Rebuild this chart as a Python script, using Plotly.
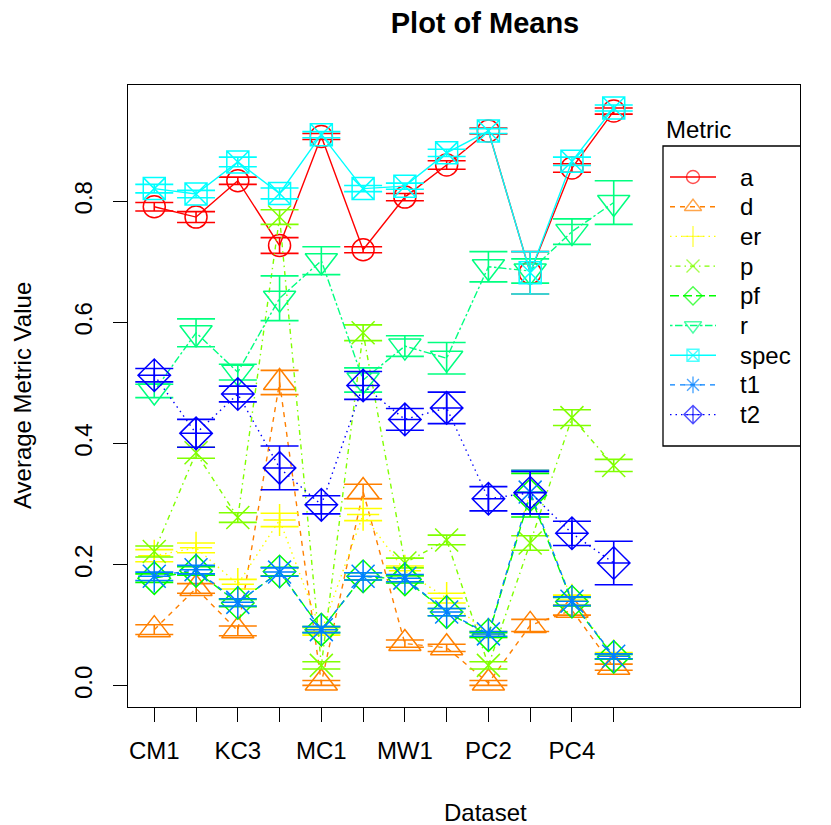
import plotly.graph_objects as go

# Datasets on the x axis (in plotting order)
datasets = ["CM1", "KC1", "KC3", "KC4", "MC1", "MC2", "MW1", "PC1", "PC2", "PC3", "PC4", "PC5"]
metrics = ["a", "d", "er", "p", "pf", "r", "spec", "t1", "t2"]

# Mean metric value per dataset, and half-width of the error bar
a_mean = [0.791, 0.774, 0.834, 0.727, 0.907, 0.720, 0.807, 0.860, 0.916, 0.682, 0.855, 0.949]
a_err = [0.007, 0.009, 0.006, 0.013, 0.005, 0.005, 0.006, 0.007, 0.005, 0.035, 0.007, 0.005]

d_mean = [0.093, 0.161, 0.091, 0.501, 0.005, 0.321, 0.070, 0.063, 0.005, 0.100, 0.125, 0.031]
d_err = [0.008, 0.008, 0.008, 0.020, 0.004, 0.012, 0.006, 0.006, 0.004, 0.010, 0.008, 0.005]

er_mean = [0.215, 0.228, 0.168, 0.274, 0.090, 0.283, 0.190, 0.145, 0.085, 0.320, 0.142, 0.050]
er_err = [0.010, 0.008, 0.008, 0.011, 0.006, 0.010, 0.008, 0.008, 0.005, 0.036, 0.008, 0.005]

p_mean = [0.222, 0.385, 0.278, 0.774, 0.034, 0.583, 0.203, 0.241, 0.034, 0.236, 0.443, 0.364]
p_err = [0.009, 0.009, 0.008, 0.012, 0.006, 0.013, 0.008, 0.008, 0.006, 0.012, 0.013, 0.010]

pf_mean = [0.178, 0.190, 0.137, 0.189, 0.093, 0.181, 0.176, 0.122, 0.084, 0.315, 0.139, 0.048]
pf_err = [0.007, 0.007, 0.006, 0.007, 0.005, 0.006, 0.006, 0.006, 0.004, 0.036, 0.007, 0.004]

r_mean = [0.487, 0.583, 0.518, 0.640, 0.702, 0.505, 0.561, 0.541, 0.692, 0.685, 0.750, 0.798]
r_err = [0.011, 0.023, 0.013, 0.037, 0.023, 0.020, 0.017, 0.026, 0.025, 0.020, 0.021, 0.036]

spec_mean = [0.821, 0.812, 0.865, 0.813, 0.910, 0.821, 0.825, 0.880, 0.916, 0.682, 0.866, 0.954]
spec_err = [0.007, 0.006, 0.008, 0.009, 0.005, 0.005, 0.005, 0.006, 0.004, 0.035, 0.007, 0.005]

t1_mean = [0.181, 0.192, 0.138, 0.188, 0.093, 0.181, 0.178, 0.122, 0.086, 0.320, 0.140, 0.049]
t1_err = [0.007, 0.007, 0.006, 0.007, 0.005, 0.006, 0.006, 0.006, 0.004, 0.036, 0.007, 0.004]

t2_mean = [0.513, 0.417, 0.482, 0.360, 0.299, 0.496, 0.440, 0.459, 0.309, 0.319, 0.252, 0.203]
t2_err = [0.011, 0.023, 0.013, 0.036, 0.015, 0.023, 0.018, 0.026, 0.020, 0.035, 0.020, 0.036]

y_ticks = [0.0, 0.2, 0.4, 0.6, 0.8]

means = [a_mean, d_mean, er_mean, p_mean, pf_mean, r_mean, spec_mean, t1_mean, t2_mean]
errs = [a_err, d_err, er_err, p_err, pf_err, r_err, spec_err, t1_err, t2_err]

# rainbow palette from red to blue
colors = ["#FF0000", "#FF8000", "#FFFF00", "#80FF00", "#00FF00",
          "#00FF80", "#00FFFF", "#0080FF", "#0000FF"]
symbols = ["circle-open", "triangle-up-open", "cross-thin-open", "x-thin-open",
           "diamond-open", "triangle-down-open", "square-x-open", "asterisk-open",
           "diamond-cross-open"]
sizes = [22, 28, 23, 23, 25, 28, 22, 27, 25]
key_sizes = [13, 15, 15, 13, 14, 15, 12, 14, 14]
dashes = ["solid", "5px,5px", "1.5px,4px", "1.5px,4px,5px,4px", "9px,4px",
          "2.5px,2.5px,7.5px,2.5px", "solid", "5px,5px", "1.5px,4px"]

x_pos = list(range(1, len(datasets) + 1))
FONT = "Liberation Sans, Arial, Helvetica, sans-serif"

W, H = 831, 825
L, R, T, B = 128, 31, 85, 118

fig = go.Figure()
for name, m, e, c, s, sz, dsh in zip(metrics, means, errs, colors, symbols, sizes, dashes):
    fig.add_trace(go.Scatter(
        x=x_pos, y=m, name=name, mode="lines+markers", showlegend=False,
        line=dict(color=c, width=1.4, dash=dsh),
        marker=dict(symbol=s, size=sz, color=c, line=dict(color=c, width=1.5)),
        error_y=dict(type="data", array=e, visible=True, color=c, thickness=1.6, width=19),
    ))

# Key box drawn on a hidden overlay axis measured in pixels of the plotting region
KEY_LEFT, KEY_RIGHT, KEY_TOP, KEY_BOTTOM = 663, 802, 146, 446
KEY_ROW0, KEY_STEP = 177, 29.7
KEY_LINE_X0, KEY_LINE_X1, KEY_TEXT_X = 670, 716, 738
key_y = [KEY_ROW0 + KEY_STEP * i for i in range(len(metrics))]
key_mid = (KEY_LINE_X0 + KEY_LINE_X1) / 2

fig.add_trace(go.Scatter(
    x=[key_mid] * len(metrics), y=key_y, mode="markers", showlegend=False,
    xaxis="x2", yaxis="y2", hoverinfo="skip",
    marker=dict(symbol=symbols, size=key_sizes, color=colors,
                line=dict(color=colors, width=1.4)),
))

shapes = [dict(type="rect", xref="x2", yref="y2", x0=KEY_LEFT, x1=KEY_RIGHT,
               y0=KEY_TOP, y1=KEY_BOTTOM, line=dict(color="black", width=1.3),
               fillcolor="rgba(0,0,0,0)", layer="above")]
annotations = []
for name, c, dsh, yy in zip(metrics, colors, dashes, key_y):
    shapes.append(dict(type="line", xref="x2", yref="y2", x0=KEY_LINE_X0, x1=KEY_LINE_X1,
                       y0=yy, y1=yy, line=dict(color=c, width=1.4, dash=dsh), layer="below"))
    annotations.append(dict(text=name, xref="x2", yref="y2", x=KEY_TEXT_X, y=yy,
                            xanchor="left", yanchor="middle", showarrow=False,
                            font=dict(family=FONT, size=24, color="black")))

annotations += [
    dict(text="Metric", xref="x2", yref="y2", x=664, y=129,
         xanchor="left", yanchor="middle", showarrow=False,
         font=dict(family=FONT, size=24, color="black")),
    dict(text="Dataset", xref="paper", yref="paper",
         x=(485 - L) / (W - L - R), y=(H - B - 812) / (H - T - B),
         xanchor="center", yanchor="middle", showarrow=False,
         font=dict(family=FONT, size=24, color="black")),
    dict(text="Average Metric Value", xref="paper", yref="paper",
         x=(22 - L) / (W - L - R), y=0.5, textangle=-90,
         xanchor="center", yanchor="middle", showarrow=False,
         font=dict(family=FONT, size=24, color="black")),
]

fig.update_layout(
    width=W, height=H,
    margin=dict(l=L, r=R, t=T, b=B, pad=0),
    paper_bgcolor="white", plot_bgcolor="white",
    font=dict(family=FONT, size=24, color="black"),
    showlegend=False,
    title=dict(
        text="<b>Plot of Means</b>", font=dict(family=FONT, size=29, color="black"),
        xref="container", yref="container", x=485 / W, y=1 - 23 / H,
        xanchor="center", yanchor="middle",
    ),
    shapes=shapes,
    annotations=annotations,
    xaxis=dict(
        range=[0.371, 16.46], tickmode="array", tickvals=x_pos,
        ticktext=[d if i % 2 == 0 else "" for i, d in enumerate(datasets)],
        ticks="outside", ticklen=14, tickwidth=1.3, tickcolor="black",
        showline=True, linecolor="black", linewidth=1.3, mirror=True,
        showgrid=False, zeroline=False,
        tickfont=dict(family=FONT, size=24, color="black"),
        ticklabelstandoff=8,
    ),
    yaxis=dict(
        range=[-0.0347, 0.992], tickmode="array", tickvals=y_ticks,
        ticktext=[f"{v:.1f}" for v in y_ticks], tickangle=-90,
        ticks="outside", ticklen=14, tickwidth=1.3, tickcolor="black",
        showline=True, linecolor="black", linewidth=1.3, mirror=True,
        showgrid=False, zeroline=False,
        tickfont=dict(family=FONT, size=24, color="black"),
        ticklabelstandoff=11,
    ),
    xaxis2=dict(overlaying="x", range=[L, W - R], visible=False, fixedrange=True),
    yaxis2=dict(overlaying="y", range=[H - B, T], visible=False, fixedrange=True),
)

fig.write_html("out.html")
